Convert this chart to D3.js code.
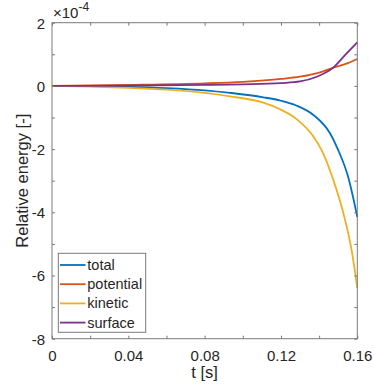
<!DOCTYPE html>
<html><head><meta charset="utf-8">
<script src="https://cdn.jsdelivr.net/npm/d3@7"></script>
<style>
html,body{margin:0;padding:0;background:#fff;}
svg{display:block;font-family:"Liberation Sans",Arial,Helvetica,sans-serif;}
</style></head>
<body>
<svg id="chart" width="374" height="388"></svg>
<script>
// values in units of 1e-4
const totalT = [0, 0.02, 0.04, 0.06, 0.08, 0.0933, 0.1107, 0.12, 0.128, 0.137, 0.1457, 0.15, 0.1553, 0.16];
const totalV = [0, -0.01, -0.03, -0.07, -0.14, -0.22, -0.36, -0.47, -0.62, -0.92, -1.5, -2.03, -2.9, -4.15];
const kineticT = [0, 0.02, 0.04, 0.06, 0.08, 0.0933, 0.1107, 0.1195, 0.1282, 0.137, 0.1413, 0.1474, 0.1527, 0.157, 0.16];
const kineticV = [0, -0.02, -0.06, -0.12, -0.22, -0.33, -0.53, -0.74, -1.05, -1.6, -2.03, -2.97, -4.03, -5.19, -6.39];
const potentialT = [0, 0.04, 0.08, 0.10, 0.12, 0.13, 0.14, 0.1474, 0.155, 0.16];
const potentialV = [0, 0.03, 0.08, 0.13, 0.22, 0.29, 0.42, 0.58, 0.72, 0.85];
const surfaceT = [0, 0.04, 0.08, 0.10, 0.12, 0.13, 0.1387, 0.1474, 0.1544, 0.16];
const surfaceV = [0, 0.01, 0.03, 0.05, 0.09, 0.14, 0.29, 0.58, 1.03, 1.38];
const seriesNames = ["total", "potential", "kinetic", "surface"];
const colors = ["#0072BD", "#D95319", "#EDB120", "#7E2F8E"];
const xTicks = [0, 0.02, 0.04, 0.06, 0.08, 0.10, 0.12, 0.14, 0.16];
const xTickLabels = ["0", "", "0.04", "", "0.08", "", "0.12", "", "0.16"];
const yTicks = [2, 1, 0, -1, -2, -3, -4, -5, -6, -7, -8];
const yTickLabels = ["2", "", "0", "", "-2", "", "-4", "", "-6", "", "-8"];

const series = [
  {name: seriesNames[0], t: totalT, v: totalV},
  {name: seriesNames[1], t: potentialT, v: potentialV},
  {name: seriesNames[2], t: kineticT, v: kineticV},
  {name: seriesNames[3], t: surfaceT, v: surfaceV}
];

const L = 52, R = 357.3, T = 22.7, B = 338.7;
const x = d3.scaleLinear().domain([0, 0.16]).range([L, R]);
const y = d3.scaleLinear().domain([-8, 2]).range([B, T]);
const svg = d3.select("#chart");
const axisCol = "#7a7a7a", textCol = "#262626";

// lines
const line = d3.line().x(d => x(d[0])).y(d => y(d[1])).curve(d3.curveMonotoneX);
const g = svg.append("g");
series.forEach((s, i) => {
  g.append("path")
    .datum(s.t.map((t, k) => [t, s.v[k]]))
    .attr("d", line)
    .attr("fill", "none")
    .attr("stroke", colors[i])
    .attr("stroke-width", 1.8);
});

// box
svg.append("rect").attr("x", L).attr("y", T).attr("width", R - L).attr("height", B - T)
  .attr("fill", "none").attr("stroke", axisCol).attr("stroke-width", 1);

const tl = 3;
const xb = d3.axisBottom(x).tickValues(xTicks).tickSizeInner(-tl).tickSizeOuter(0)
  .tickFormat((d, i) => xTickLabels[i]);
const gxb = svg.append("g").attr("transform", `translate(0,${B})`).call(xb);
const xt = d3.axisTop(x).tickValues(xTicks).tickSizeInner(-tl).tickSizeOuter(0).tickFormat("");
const gxt = svg.append("g").attr("transform", `translate(0,${T})`).call(xt);
const yl = d3.axisLeft(y).tickValues(yTicks).tickSizeInner(-tl).tickSizeOuter(0)
  .tickFormat((d, i) => yTickLabels[i]);
const gyl = svg.append("g").attr("transform", `translate(${L},0)`).call(yl);
const yr = d3.axisRight(y).tickValues(yTicks).tickSizeInner(-tl).tickSizeOuter(0).tickFormat("");
const gyr = svg.append("g").attr("transform", `translate(${R},0)`).call(yr);
[gxb, gxt, gyl, gyr].forEach(a => {
  a.select(".domain").remove();
  a.selectAll(".tick line").attr("stroke", axisCol);
  a.selectAll(".tick text").attr("fill", textCol).style("font-size", "15px")
    .style("font-family", "'Liberation Sans',Arial,sans-serif");
});
gxb.selectAll(".tick text").attr("dy", 0).attr("y", 22.5);
gyl.selectAll(".tick text").attr("x", -7).attr("dy", "0.36em");

// axis labels
svg.append("text").attr("x", (L + R) / 2).attr("y", 378).attr("text-anchor", "middle")
  .attr("fill", textCol).style("font-size", "16.5px").text("t [s]");
svg.append("text").attr("transform", `translate(28,${(T + B) / 2}) rotate(-90)`)
  .attr("text-anchor", "middle").attr("fill", textCol).style("font-size", "16.5px")
  .text("Relative energy [-]");

// exponent
const ex = svg.append("text").attr("x", 53).attr("y", 18.3).attr("fill", textCol).style("font-size", "15px");
ex.append("tspan").text("×10");
ex.append("tspan").attr("dy", -7).style("font-size", "12px").text("-4");

// legend
const lgX = 58.3, lgY = 253.3, lgW = 87.4, lgH = 79;
svg.append("rect").attr("x", lgX).attr("y", lgY).attr("width", lgW).attr("height", lgH)
  .attr("fill", "#fff").attr("stroke", axisCol).attr("stroke-width", 1);
series.forEach((s, i) => {
  const cy = 265 + i * 19.2;
  svg.append("line").attr("x1", 60).attr("x2", 85.5).attr("y1", cy).attr("y2", cy)
    .attr("stroke", colors[i]).attr("stroke-width", 1.8);
  svg.append("text").attr("x", 87.3).attr("y", cy).attr("dy", "0.35em")
    .attr("fill", textCol).style("font-size", "14.5px").text(s.name);
});
</script>
</body></html>
